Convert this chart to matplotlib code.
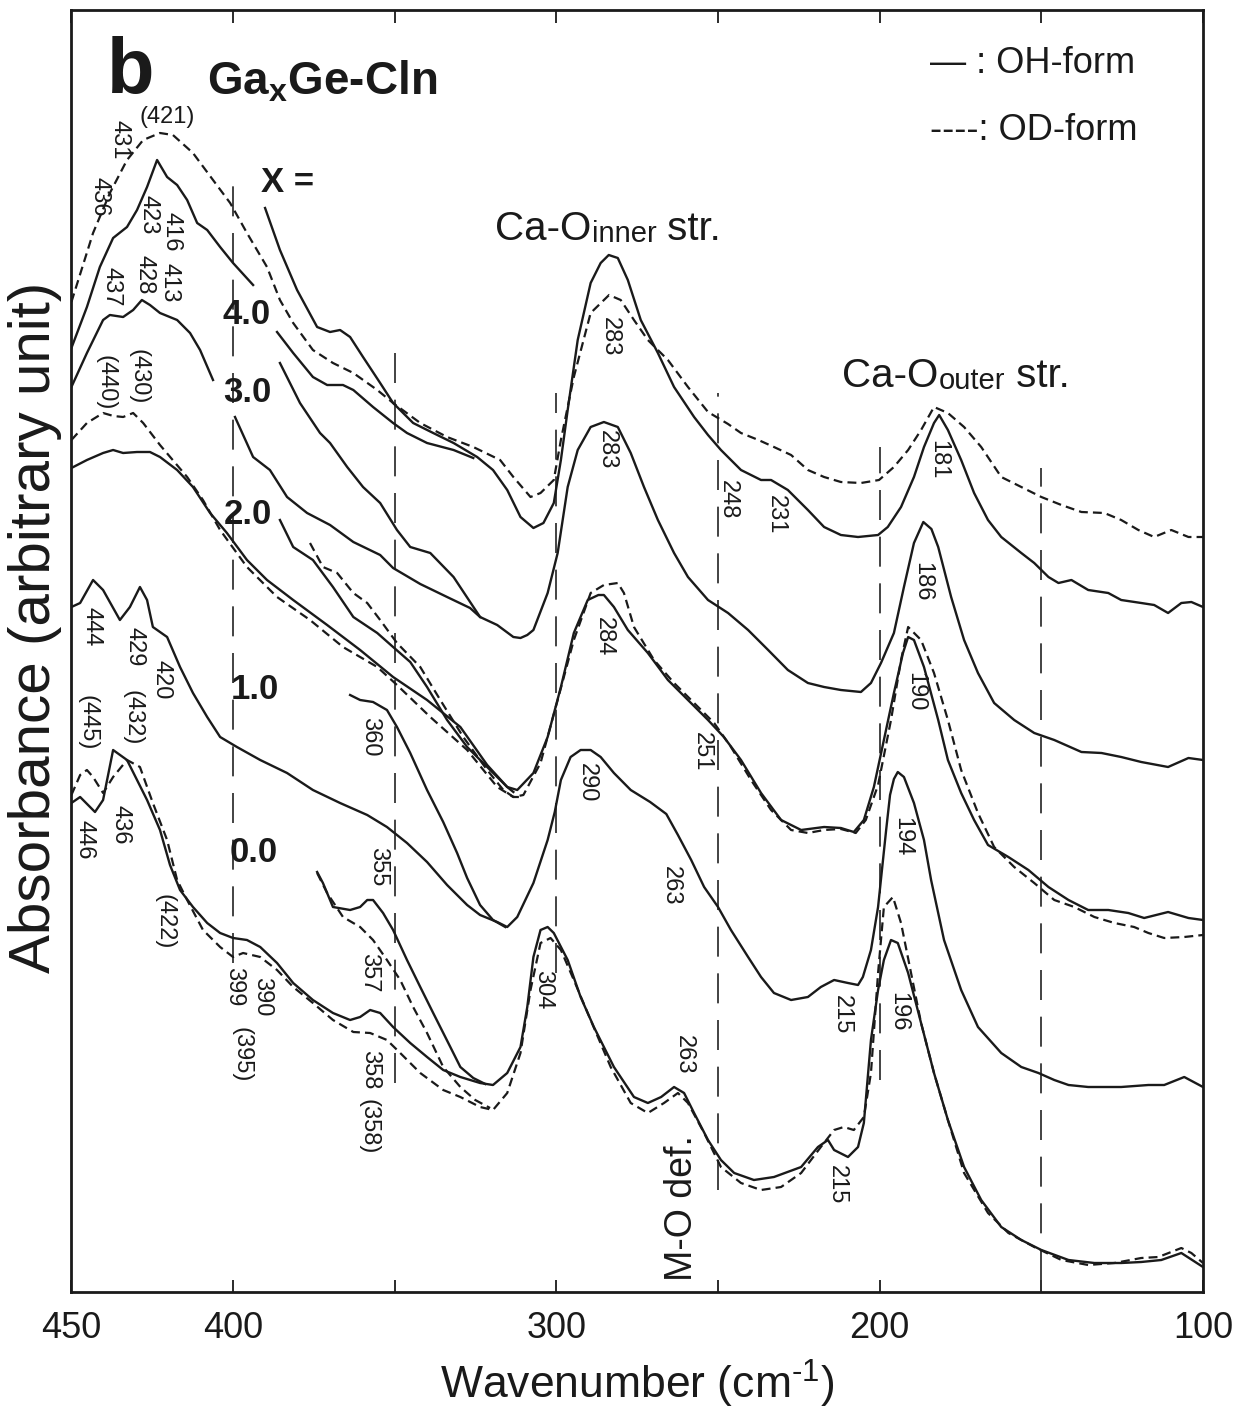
import numpy as np
import matplotlib
matplotlib.use('Agg')
import matplotlib.pyplot as plt

plt.rcParams['font.family'] = ['Liberation Sans', 'DejaVu Sans']
plt.rcParams['mathtext.fontset'] = 'custom'
plt.rcParams['mathtext.rm'] = 'Liberation Sans'
plt.rcParams['mathtext.bf'] = 'Liberation Sans:bold'

nan = np.nan

# far-IR absorbance traces (wavenumber cm-1, arbitrary absorbance), offset per composition
# x = 4.0
od40 = [(450, 990), (443.3, 1059), (438.1, 1099), (432.8, 1132), (427.8, 1152), (422.6, 1159),
        (418.6, 1157), (412.4, 1139), (406.2, 1112), (400.9, 1089), (395.7, 1059), (389.5, 1025),
        (385.5, 992), (381.4, 969), (375.3, 942), (369.1, 929), (362.8, 919), (355.4, 902),
        (350.5, 889), (342.1, 869), (333.8, 855), (325.7, 845), (317.4, 832), (313.3, 815),
        (308.0, 795), (304.9, 799), (300.8, 812), (298.6, 852), (294.6, 915), (289.4, 979),
        (283.7, 997), (280.1, 992), (276.0, 972), (271.7, 952), (265.5, 932), (259.3, 905),
        (253.1, 880), (246.9, 868), (242.9, 859), (237.5, 852), (232.7, 845), (227.4, 837),
        (222.2, 822), (217.2, 815), (212.0, 810), (205.8, 809), (200.2, 812), (195.6, 825),
        (191.2, 842), (187.2, 862), (183.2, 885), (178.9, 879), (173.9, 865), (168.6, 845),
        (162.4, 815), (156.2, 805), (150.0, 795), (143.8, 787), (137.6, 780), (130.5, 779),
        (125.3, 772), (120.0, 762), (115.1, 755), (109.8, 762), (104.5, 755), (100, 755)]
oh40_hi = [(450, 944), (445.2, 985), (441.2, 1025), (437.1, 1054), (432.8, 1065), (429.7, 1082),
           (426.6, 1105), (423.5, 1132), (420.4, 1115), (417.3, 1107), (414.2, 1092), (411.1, 1069),
           (408.0, 1062), (404.0, 1045), (400.0, 1029), (393.8, 1007), (nan, nan),
           (386.4, 960), (381.4, 939), (375.3, 915), (370.9, 907), (366.0, 907), (362.8, 902),
           (356.7, 885), (350.5, 869), (346.2, 859), (340.0, 849), (331.8, 842), (325.7, 834)]
oh40_lo = [(390.1, 1084), (385.5, 1042), (380.2, 1002), (374.0, 965), (370.0, 960), (366.9, 962),
           (363.8, 955), (359.8, 935), (354.5, 909), (350.5, 889), (344.3, 869), (338.1, 859),
           (331.8, 849), (324.5, 835), (319.6, 822), (315.2, 802), (311.1, 775), (307.1, 764),
           (304.0, 769), (300.8, 789), (298.6, 832), (296.5, 882), (293.4, 952), (289.4, 1009),
           (286.3, 1029), (283.8, 1037), (281.0, 1034), (277.9, 1012), (273.9, 972), (268.6, 939),
           (263.6, 905), (257.4, 875), (253.1, 857), (249.1, 842), (242.9, 822), (236.7, 812),
           (233.6, 812), (228.4, 802), (222.2, 782), (217.2, 765), (212.0, 757), (206.7, 755),
           (200.5, 757), (197.5, 765), (193.4, 785), (189.4, 815), (186.3, 845), (183.2, 869),
           (181.6, 877), (178.9, 862), (174.8, 832), (170.8, 799), (166.5, 772), (162.4, 755),
           (156.2, 739), (152.2, 729), (147.8, 715), (144.7, 709), (140.7, 712), (135.5, 702),
           (129.3, 699), (125.3, 692), (119.1, 689), (115.1, 687), (110.8, 679), (106.7, 689),
           (103.6, 690), (100, 685)]

# x = 3.0
oh30_hi = [(450, 905), (445.2, 939), (440.2, 972), (438.1, 977), (434.0, 975), (430.9, 982),
           (428.2, 992), (425.7, 987), (422.6, 979), (417.3, 972), (413.3, 959), (410.2, 942),
           (406.2, 912), (nan, nan), (399.4, 875), (393.8, 835), (388.6, 822), (383.3, 795),
           (377.1, 779), (370.0, 767), (362.8, 750), (354.5, 737), (350.5, 724), (342.1, 708),
           (333.8, 695), (326.7, 684), (323.6, 675)]
oh30_lo = [(385.5, 929), (379.3, 889), (373.1, 859), (370.0, 849), (364.7, 825), (359.8, 805),
           (354.5, 789), (349.3, 762), (345.2, 745), (339.0, 739), (331.8, 715), (323.6, 675),
           (318.3, 667), (313.3, 655), (311.1, 654), (309.0, 657), (307.1, 662), (302.7, 699),
           (299.6, 739), (296.5, 805), (293.4, 842), (289.4, 865), (285.3, 870), (281.0, 865),
           (277.0, 839), (272.9, 805), (268.6, 772), (263.6, 739), (259.3, 715), (253.1, 692),
           (246.9, 679), (240.7, 662), (234.5, 642), (228.4, 622), (222.2, 609), (217.2, 605),
           (212.0, 602), (205.8, 600), (202.7, 609), (199.6, 629), (195.6, 659), (192.5, 705),
           (189.4, 749), (186.5, 770), (184.0, 763), (181.9, 745), (177.9, 695), (173.9, 652),
           (169.6, 619), (164.6, 589), (158.4, 572), (152.2, 559), (146.0, 552), (137.6, 540),
           (131.4, 539), (125.3, 535), (119.1, 530), (110.8, 525), (104.5, 534), (100, 532)]

# x = 2.0
oh20_hi = [(450, 824), (445.2, 832), (440.2, 839), (437.1, 842), (434.0, 839), (429.7, 840),
           (425.7, 840), (422.6, 835), (417.3, 822), (412.4, 805), (407.1, 779), (401.9, 759),
           (395.7, 732), (389.5, 712), (381.4, 692), (370.9, 667), (360.7, 642), (350.5, 615),
           (340.0, 592), (329.7, 565), (321.4, 527), (315.2, 505), (313.3, 500)]
od20_hi = [(450, 852), (445.2, 869), (440.2, 879), (437.0, 876), (434.0, 875), (430.9, 879),
           (427.8, 869), (422.6, 847), (414.2, 815), (409.3, 792), (404.0, 762), (395.7, 725),
           (386.4, 695), (376.2, 672), (366.0, 645), (355.4, 625), (349.3, 607), (339.0, 575),
           (327.6, 542), (318.3, 505), (313.3, 495), (311.1, 495)]
oh20_lo = [(385.5, 772), (381.4, 745), (375.3, 732), (369.1, 705), (362.8, 675), (355.4, 659),
           (350.5, 645), (345.2, 630), (340.0, 605), (333.8, 572), (327.6, 545), (321.4, 525),
           (315.2, 505), (312.1, 502), (307.1, 519), (302.7, 555), (298.6, 605), (294.6, 659),
           (290.3, 692), (287.0, 697), (285.3, 697), (282.2, 685), (277.9, 662), (271.7, 639),
           (265.5, 612), (259.3, 592), (253.1, 572), (248.2, 555), (242.9, 532), (236.7, 499),
           (230.5, 472), (224.3, 462), (217.2, 465), (212.0, 464), (208.0, 460), (204.9, 472),
           (201.8, 505), (198.7, 552), (195.6, 599), (192.8, 639), (191.2, 655), (189.4, 652),
           (186.3, 625), (181.9, 572), (178.9, 532), (174.8, 499), (170.8, 472), (166.5, 447),
           (160.2, 435), (154.0, 422), (147.8, 405), (141.6, 392), (135.5, 382), (129.3, 382),
           (123.1, 379), (118.2, 374), (110.8, 380), (104.5, 374), (100, 372)]
od20_lo = [(376.2, 749), (372.2, 725), (367.8, 719), (362.8, 699), (358.5, 689), (354.5, 672),
           (349.3, 649), (342.1, 625), (335.9, 592), (328.8, 555), (321.4, 522), (316.4, 502),
           (313.3, 495), (310.2, 497), (304.9, 529), (299.6, 592), (294.6, 652), (289.4, 699),
           (285.3, 707), (281.0, 709), (279.1, 699), (276.0, 665), (269.8, 632), (263.6, 609),
           (257.4, 589), (251.2, 569), (246.0, 545), (239.8, 512), (233.6, 482), (227.4, 462),
           (222.2, 459), (217.2, 462), (212.0, 463), (207.4, 459), (204.3, 472), (200.5, 507),
           (196.5, 572), (193.4, 632), (191.2, 665), (187.2, 652), (183.2, 619), (178.9, 572),
           (174.8, 522), (169.6, 479), (164.6, 445), (158.4, 425), (152.2, 409), (146.0, 392),
           (139.8, 385), (133.6, 375), (127.4, 369), (121.3, 365), (116.9, 359), (112.0, 354),
           (105.8, 355), (100, 357)]

# x = 1.0
oh10_hi = [(450, 685), (447.3, 689), (443.3, 712), (440.2, 702), (435.0, 672), (431.9, 685),
           (428.8, 705), (426.6, 692), (424.8, 665), (420.4, 655), (416.4, 625), (412.4, 599),
           (408.0, 575), (404.0, 555), (398.8, 545), (391.6, 532), (383.3, 519), (375.3, 502),
           (366.9, 489), (358.5, 477), (352.4, 465), (346.2, 449), (340.0, 430), (333.8, 407),
           (327.6, 387), (323.6, 377), (318.3, 370), (315.2, 365), (312.1, 375), (307.1, 409),
           (302.7, 452), (300.5, 480), (298.6, 512), (295.6, 535), (292.5, 542), (289.4, 542),
           (286.3, 535), (282.2, 519), (277.0, 502), (271.0, 490), (266.0, 478), (262.4, 457),
           (258.3, 432), (254.3, 405), (250.0, 385), (246.0, 362), (240.7, 335), (236.7, 315),
           (232.7, 299), (227.4, 292), (222.2, 295), (218.2, 305), (214.1, 312), (209.8, 309),
           (206.7, 307), (205.2, 315), (202.7, 342), (200.5, 385), (199.3, 422), (198.0, 462),
           (196.8, 497), (195.6, 513), (194.4, 520), (192.5, 515), (189.4, 489), (186.3, 452),
           (184.1, 412), (180.1, 352), (174.8, 302), (169.6, 265), (162.4, 239), (156.2, 225),
           (150.9, 219), (146.0, 212), (141.6, 207), (135.5, 205), (125.3, 205), (116.9, 207),
           (112.0, 207), (105.8, 215), (100, 205)]
oh10_lo = [(363.8, 597), (360.7, 592), (356.7, 590), (352.4, 582), (349.3, 565), (345.2, 539),
           (340.0, 502), (335.0, 470), (330.7, 439), (327.6, 414), (323.6, 387), (319.6, 372),
           (315.8, 365)]

# x = 0.0
oh00_hi = [(450, 489), (447.3, 495), (442.7, 480), (440.2, 492), (437.1, 542), (432.8, 532),
           (429.7, 512), (426.6, 492), (422.6, 462), (419.5, 427), (416.4, 402), (412.4, 385),
           (408.0, 369), (404.0, 359), (400.0, 354), (395.7, 352), (391.6, 345), (386.4, 329),
           (381.4, 309), (375.3, 292), (369.1, 279), (363.8, 272), (360.7, 275), (357.6, 282),
           (354.5, 279), (350.5, 265), (345.2, 249), (340.0, 235), (335.0, 222), (329.7, 215),
           (323.6, 209), (319.6, 207), (315.2, 219), (311.1, 245), (309.0, 285), (307.1, 335),
           (304.9, 362), (302.7, 365), (300.8, 359), (296.5, 332), (292.5, 295), (288.4, 265),
           (282.2, 225), (276.0, 195), (271.7, 189), (267.6, 195), (263.6, 205), (260.5, 199),
           (257.4, 179), (253.1, 152), (249.1, 132), (245.0, 119), (238.9, 112), (232.7, 115),
           (224.3, 125), (219.1, 145), (216.0, 152), (214.1, 142), (209.8, 135), (206.7, 145),
           (204.9, 169), (202.7, 252), (200.5, 302), (198.7, 332), (196.5, 352), (194.4, 349),
           (191.2, 319), (187.2, 269), (183.2, 219), (178.9, 172), (173.9, 125), (168.6, 92),
           (162.4, 65), (156.2, 52), (150.0, 42), (141.6, 32), (133.6, 29), (125.3, 29),
           (119.1, 30), (112.9, 32), (106.7, 39), (100, 25)]
od00_hi = [(450, 497), (447.3, 517), (445.2, 522), (443.3, 515), (440.2, 499), (437.1, 515),
           (432.8, 532), (428.8, 525), (424.8, 489), (420.4, 452), (417.3, 412), (414.2, 392),
           (409.3, 362), (404.0, 345), (400.0, 335), (396.9, 339), (391.6, 335), (386.4, 322),
           (381.4, 305), (375.3, 289), (369.1, 272), (362.8, 260), (357.6, 259), (352.4, 252),
           (348.3, 239), (342.1, 219), (335.0, 202), (329.7, 195), (323.6, 185), (319.6, 182),
           (315.2, 199), (311.1, 239), (308.0, 302), (304.9, 349), (301.8, 354), (298.6, 342),
           (294.6, 312), (289.4, 272), (283.2, 225), (277.0, 189), (271.7, 179), (266.7, 189),
           (262.4, 199), (259.3, 189), (254.3, 159), (249.1, 125), (242.9, 109), (236.7, 102),
           (230.5, 105), (224.3, 119), (218.2, 145), (214.1, 162), (211.1, 165), (208.0, 162),
           (204.9, 175), (202.7, 219), (200.5, 319), (198.7, 385), (195.9, 395), (193.4, 369),
           (190.3, 319), (187.2, 269), (183.2, 219), (178.9, 172), (173.9, 119), (166.5, 79),
           (160.2, 59), (152.2, 45), (143.8, 32), (135.5, 27), (127.4, 29), (119.1, 34),
           (113.8, 35), (106.7, 44), (103.6, 39), (100, 29)]
oh00_lo = [(374.0, 420), (372.2, 409), (369.1, 385), (363.8, 382), (360.7, 385), (358.5, 392),
           (356.7, 392), (353.6, 379), (350.5, 362), (346.2, 332), (342.1, 305), (338.1, 279),
           (332.8, 245), (329.7, 225), (325.7, 214), (322.0, 208)]
od00_lo = [(374.0, 419), (370.9, 399), (366.0, 375), (360.7, 365), (356.7, 352), (352.4, 332),
           (348.3, 312), (344.3, 285), (340.0, 259), (335.0, 225), (329.7, 205), (325.1, 192),
           (320.5, 184)]

oh_traces = [oh40_hi, oh40_lo, oh30_hi, oh30_lo, oh20_hi, oh20_lo,
             oh10_hi, oh10_lo, oh00_hi, oh00_lo]
od_traces = [od40, od20_hi, od20_lo, od00_hi, od00_lo]

compositions = ['4.0', '3.0', '2.0', '1.0', '0.0']
comp_pos = [(395.7, 977), (395.7, 899), (395.4, 777), (393.2, 602), (393.5, 439)]

# guide lines every 50 cm-1 (wavenumber, from, to)
guides = [(400, 329, 1119), (350, 209, 949), (300, 319, 899),
          (250, 102, 899), (200, 212, 845), (150, 12, 824)]

peak_labels = [
    ('431', 435.0, 1152), ('436', 441.2, 1095), ('423', 426.3, 1077), ('416', 418.9, 1060),
    ('437', 437.5, 1005), ('428', 427.5, 1017), ('413', 419.8, 1009),
    ('(440)', 439.6, 909), ('(430)', 429.1, 915),
    ('444', 443.9, 665), ('429', 430.4, 645), ('420', 422.0, 612),
    ('(445)', 444.9, 569), ('(432)', 431.0, 574),
    ('436', 434.7, 467), ('446', 446.1, 452), ('(422)', 421.3, 370),
    ('399', 399.7, 305), ('390', 391.0, 295), ('(395)', 397.5, 237),
    ('360', 357.6, 555), ('355', 355.1, 425), ('357', 358.0, 319),
    ('358', 357.6, 222), ('(358)', 358.2, 165),
    ('283', 283.4, 955), ('283', 284.3, 842), ('248', 246.9, 792), ('231', 232.0, 777),
    ('284', 285.2, 655), ('251', 254.9, 540), ('290', 290.5, 509), ('263', 264.5, 406),
    ('304', 304.1, 302), ('263', 260.5, 237),
    ('215', 211.8, 277), ('215', 213.1, 107), ('196', 194.4, 280), ('194', 193.1, 455),
    ('190', 189.0, 600), ('186', 186.8, 710), ('181', 182.0, 832),
]


def xy(pts):
    arr = np.array(pts, dtype=float)
    return arr[:, 0], arr[:, 1]


ink = '#1a1a1a'

fig = plt.figure(figsize=(12.35, 14.17), dpi=100)
ax = fig.add_axes([71.4 / 1235, 125 / 1417, (1203 - 71.4) / 1235, 1282 / 1417])

for w, a0, a1 in guides:
    ax.plot([w, w], [a0, a1], color='#222222', lw=1.2, ls=(0, (18, 10)))

for tr in oh_traces:
    w, a = xy(tr)
    ax.plot(w, a, color=ink, lw=1.7, solid_joinstyle='round')
for tr in od_traces:
    w, a = xy(tr)
    ax.plot(w, a, color=ink, lw=1.6, ls=(0, (4, 2.3)))

for txt, w, a in peak_labels:
    ax.text(w, a, txt, rotation=270, ha='center', va='center', fontsize=17, color=ink)
ax.text(420.4, 1175, '(421)', ha='center', va='center', fontsize=17, color=ink)

for c, (w, a) in zip(compositions, comp_pos):
    ax.text(w, a, c, ha='center', va='center', fontsize=25, fontweight='bold', color=ink)
ax.text(383.3, 1109, 'X =', ha='center', va='center', fontsize=25, fontweight='bold', color=ink)

ax.text(439, 1199, 'b', ha='left', va='baseline', fontsize=56, fontweight='bold', color=ink)
ax.text(408.0, 1197, r'Ga$_{\mathbf{x}}$Ge-Cln', ha='left', va='baseline', fontsize=33,
        fontweight='bold', color=ink)

ax.text(184.4, 1219, '— : OH-form', ha='left', va='baseline', fontsize=26, color=ink)
ax.text(184.4, 1152, '----: OD-form', ha='left', va='baseline', fontsize=26, color=ink)

# band assignments: small word sits on the baseline of "Ca-O"
for w, a, word in [(318.9, 1052, 'inner'), (211.6, 905, 'outer')]:
    t1 = ax.text(w, a, 'Ca-O', ha='left', va='baseline', fontsize=29, color=ink)
    t2 = ax.annotate(word, xy=(1, 0), xycoords=t1, ha='left', va='bottom', fontsize=21,
                     color=ink)
    ax.annotate(' str.', xy=(1, 0), xycoords=t2, ha='left', va='bottom', fontsize=29,
                color=ink)

ax.text(261.1, 84, 'M-O def.', rotation=90, ha='center', va='center', fontsize=27, color=ink)

ax.set_xlim(450, 100)
ax.set_ylim(0, 1282)
ax.set_yticks([])
ax.set_xticks([450, 400, 350, 300, 250, 200, 150, 100])
ax.set_xticklabels(['450', '400', '', '300', '', '200', '', '100'])
ax.tick_params(axis='x', direction='in', top=True, length=9, width=1.3, pad=14,
               labelsize=26, colors=ink)
for sp in ax.spines.values():
    sp.set_linewidth(2.0)
    sp.set_color(ink)

ax.set_xlabel(r'Wavenumber (cm$^{\text{-}1}$)', fontsize=32, labelpad=8, color=ink)
fig.text(35 / 1235, 1 - 627 / 1417, 'Absorbance (arbitrary unit)', rotation=90,
         ha='center', va='center', fontsize=42, color=ink)

fig.savefig('out.png', dpi=100)
